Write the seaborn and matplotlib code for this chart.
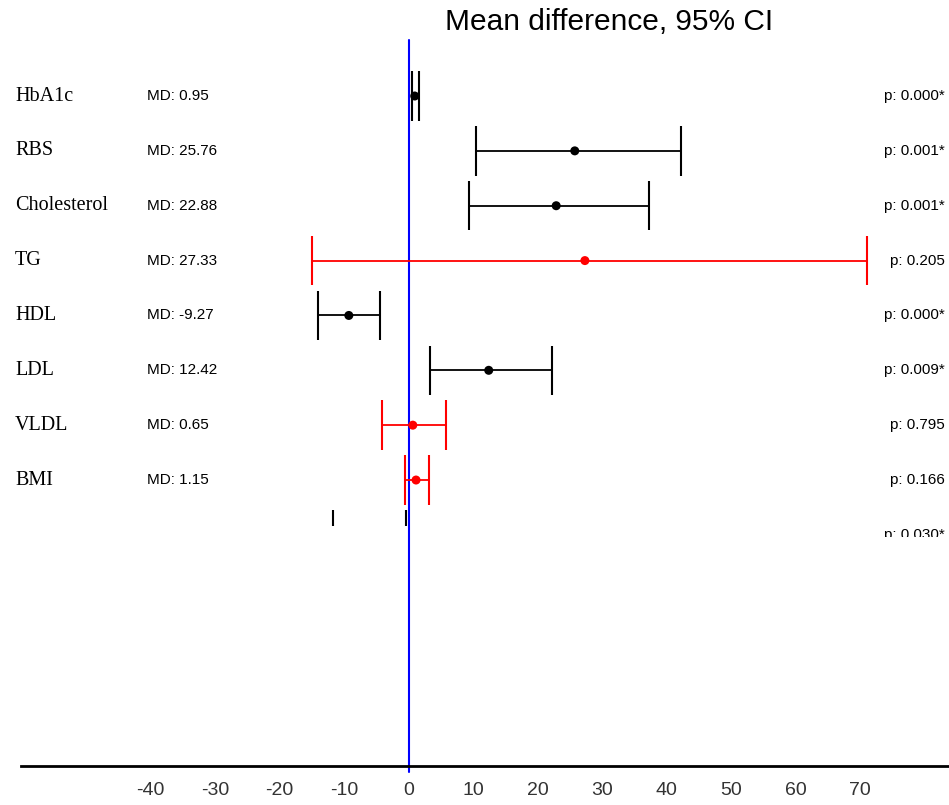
import matplotlib
matplotlib.use("Agg")
import matplotlib.pyplot as plt
import matplotlib.transforms as mtransforms
import numpy as np
import pandas as pd
import seaborn as sns

# ---- data -------------------------------------------------------------
labels = ["HbA1c", "RBS", "Cholesterol", "TG", "HDL", "LDL", "VLDL", "BMI", ""]
md = [0.95, 25.76, 22.88, 27.33, -9.27, 12.42, 0.65, 1.15, -6.05]
ci_low = [0.6, 10.5, 9.4, -15.0, -14.1, 3.3, -4.1, -0.5, -11.7]
ci_high = [1.65, 42.2, 37.3, 71.1, -4.4, 22.2, 5.8, 3.2, -0.4]
p_values = [0.000, 0.001, 0.001, 0.205, 0.000, 0.009, 0.795, 0.166, 0.030]
x_ticks = [-40, -30, -20, -10, 0, 10, 20, 30, 40, 50, 60, 70]

df = pd.DataFrame({
    "label": labels, "md": md, "low": ci_low, "high": ci_high, "p": p_values,
})
df["row"] = np.arange(len(df))
df["sig"] = df["p"] < 0.05

sns.set_style("white")
plt.rcParams["font.family"] = ["Liberation Sans", "DejaVu Sans"]
plt.rcParams["text.color"] = "black"

W, H = 949, 805
fig = plt.figure(figsize=(W / 100, H / 100), dpi=100)

XLIM = (-63.35, 83.78)
ROW_LIM = (7.838, -1.75)
PANEL_BOTTOM = 526   # pixel row where the forest panel ends
TEXT_BOTTOM = 537    # pixel row where the annotation column ends

# full-figure overlay for the reference line at zero
ax_full = fig.add_axes([0, 0, 1, 1])
ax_full.set_xlim(*XLIM)
ax_full.axis("off")
ax_full.axvline(0, ymin=1 - 772 / H, ymax=1 - 40 / H, color="#0000ff", lw=1.5)

# forest panel
ax = fig.add_axes([0, 1 - PANEL_BOTTOM / H, 1, PANEL_BOTTOM / H])
ax.patch.set_alpha(0)

colors = np.where(df["sig"], "black", "red")
cap = 0.45
ax.hlines(df["row"], df["low"], df["high"], colors=colors, lw=1.3)
ax.vlines(df["low"], df["row"] - cap, df["row"] + cap, colors=colors, lw=1.5)
ax.vlines(df["high"], df["row"] - cap, df["row"] + cap, colors=colors, lw=1.5)
sns.scatterplot(data=df, x="md", y="row", hue="sig",
                palette={True: "black", False: "red"},
                s=42, linewidth=0, legend=False, ax=ax, zorder=3)
ax.set_xlim(*XLIM)
ax.set_ylim(*ROW_LIM)
ax.axis("off")

# annotation columns
tr = mtransforms.blended_transform_factory(ax.transAxes, ax.transData)
clip = mtransforms.TransformedBbox(
    mtransforms.Bbox([[0, 1 - TEXT_BOTTOM / H], [1, 1]]), fig.transFigure)
for _, r in df.iterrows():
    if r["label"]:
        ax.text(15 / W, r["row"], r["label"], transform=tr, ha="left",
                va="center", fontsize=14.5, family="Liberation Serif",
                clip_on=False)
        ax.text(147 / W, r["row"], f"MD: {r['md']:.2f}", transform=tr,
                ha="left", va="center", fontsize=11, clip_on=False)
    star = "*" if r["sig"] else ""
    t = ax.text(945 / W, r["row"], f"p: {r['p']:.3f}{star}", transform=tr,
                ha="right", va="center", fontsize=11, clip_on=True)
    t.set_clip_box(clip)

# title
fig.text(609 / W, 1 - 22 / H, "Mean difference, 95% CI", ha="center",
         va="center", fontsize=21.5)

# bottom axis
ax_x = fig.add_axes([21 / W, 1 - 766 / H, 1 - 21 / W, 0.001])
ax_x.patch.set_alpha(0)
ax_x.set_xlim(XLIM[0] + 21 / W * (XLIM[1] - XLIM[0]), XLIM[1])
for side in ["top", "left", "right"]:
    ax_x.spines[side].set_visible(False)
ax_x.spines["bottom"].set_linewidth(2)
ax_x.spines["bottom"].set_color("black")
ax_x.set_yticks([])
ax_x.set_xticks(x_ticks)
ax_x.set_xticklabels([str(v) for v in x_ticks], fontsize=14)
ax_x.tick_params(axis="x", length=0, pad=11.5, colors="#333333")

fig.savefig("out.png", dpi=100)
